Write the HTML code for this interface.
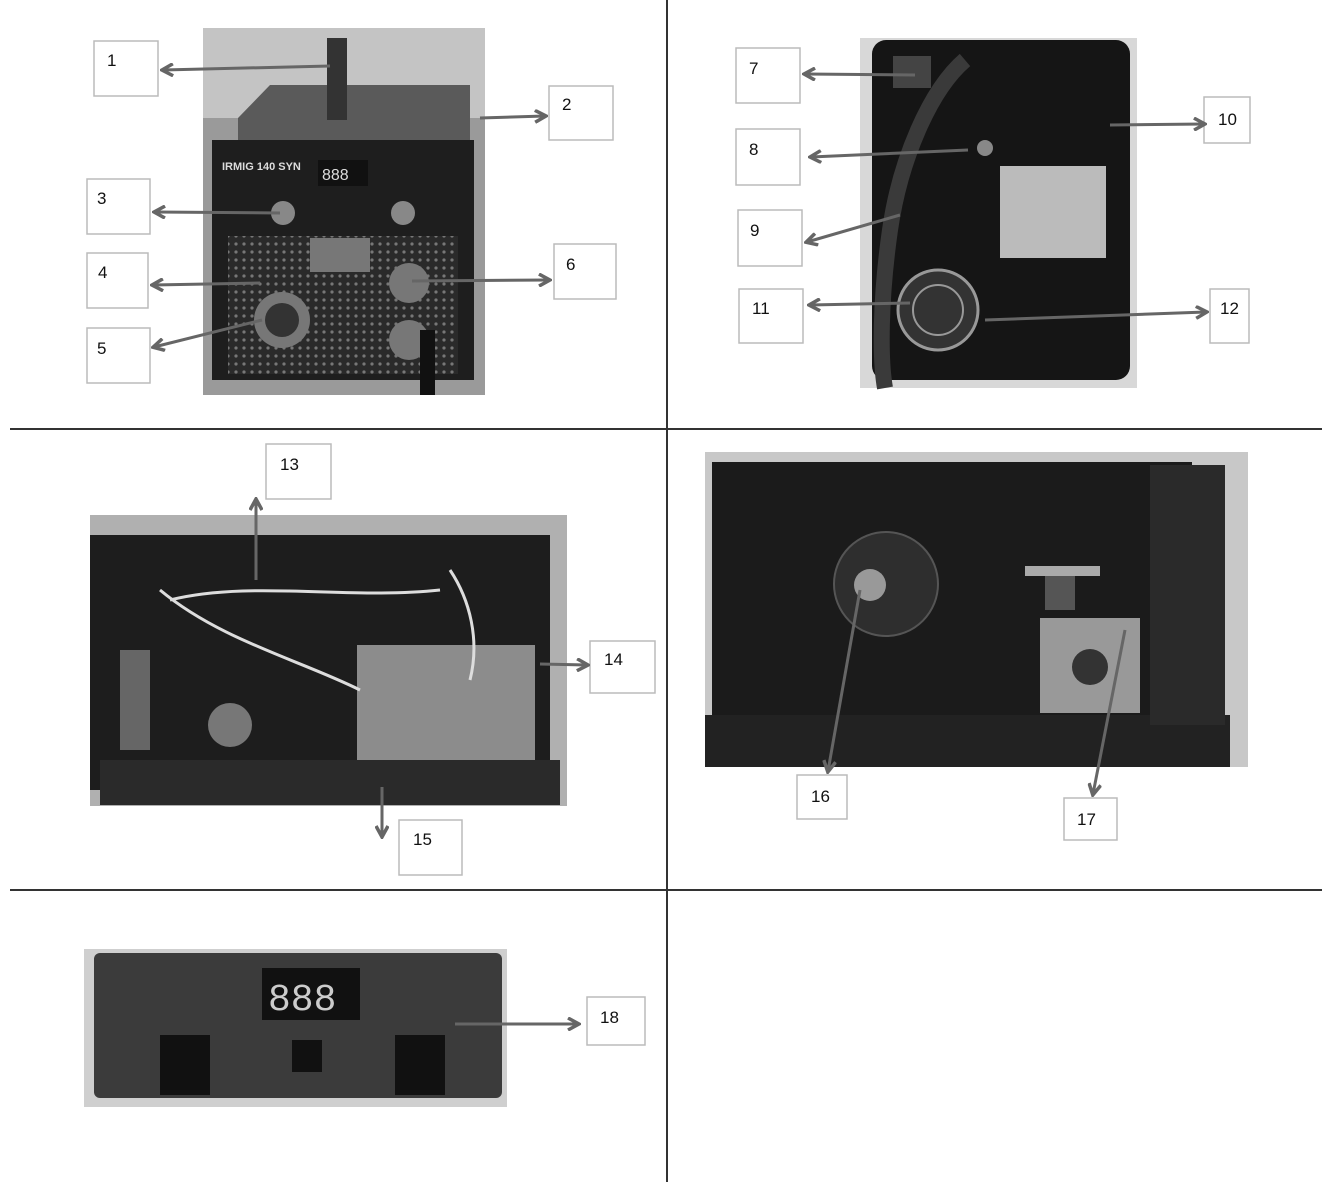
<!DOCTYPE html>
<html><head><style>
html,body{margin:0;padding:0;background:#fff}
svg{display:block}
text{font-family:"Liberation Sans",sans-serif;font-size:17px;fill:#111}
</style></head><body>
<svg width="1330" height="1182" viewBox="0 0 1330 1182" xmlns="http://www.w3.org/2000/svg">
<defs>
<marker id="a" markerWidth="14" markerHeight="14" refX="11" refY="7" orient="auto" markerUnits="userSpaceOnUse"><path d="M1,1 L12,7 L1,13" fill="none" stroke="#666" stroke-width="3.5"/></marker>
<pattern id="holes" width="8" height="8" patternUnits="userSpaceOnUse"><rect width="8" height="8" fill="#2a2a2a"/><circle cx="4" cy="4" r="1.6" fill="#777"/></pattern>
</defs>
<line x1="667" y1="0" x2="667" y2="1182" stroke="#333" stroke-width="2"/>
<line x1="10" y1="429" x2="1322" y2="429" stroke="#333" stroke-width="2"/>
<line x1="10" y1="890" x2="1322" y2="890" stroke="#333" stroke-width="2"/>

<rect x="203" y="28" width="282" height="367" fill="#9a9a9a"/>
<rect x="203" y="28" width="282" height="90" fill="#c4c4c4"/>
<polygon points="238,118 270,85 470,85 470,145 238,145" fill="#5a5a5a"/>
<rect x="212" y="140" width="262" height="240" fill="#1e1e1e"/>
<rect x="228" y="236" width="230" height="138" fill="url(#holes)"/>
<rect x="318" y="160" width="50" height="26" fill="#111"/>
<text x="322" y="180" style="fill:#ddd;font-size:16px">888</text>
<text x="222" y="170" style="fill:#ddd;font-size:11px;font-weight:bold">IRMIG 140 SYN</text>
<rect x="310" y="238" width="60" height="34" fill="#777"/>
<circle cx="283" cy="213" r="12" fill="#888"/><circle cx="403" cy="213" r="12" fill="#888"/>
<circle cx="282" cy="320" r="28" fill="#777"/><circle cx="282" cy="320" r="17" fill="#333"/>
<circle cx="409" cy="283" r="20" fill="#777"/><circle cx="409" cy="340" r="20" fill="#777"/>
<rect x="327" y="38" width="20" height="82" fill="#333"/>
<rect x="420" y="330" width="15" height="65" fill="#111"/>

<rect x="860" y="38" width="277" height="350" fill="#d8d8d8"/>
<rect x="872" y="40" width="258" height="340" rx="14" fill="#151515"/>
<rect x="893" y="56" width="38" height="32" fill="#444"/>
<rect x="1000" y="166" width="106" height="92" fill="#bbb"/>
<circle cx="938" cy="310" r="40" fill="#333" stroke="#999" stroke-width="3"/>
<circle cx="938" cy="310" r="25" fill="none" stroke="#999" stroke-width="2"/>
<circle cx="985" cy="148" r="8" fill="#888"/>
<path d="M965,60 C930,90 900,160 890,230 C880,300 880,360 885,388" stroke="#3a3a3a" stroke-width="16" fill="none"/>

<rect x="90" y="515" width="477" height="291" fill="#b0b0b0"/>
<rect x="90" y="535" width="460" height="255" fill="#1d1d1d"/>
<rect x="100" y="760" width="460" height="45" fill="#2a2a2a"/>
<rect x="357" y="645" width="178" height="115" fill="#8c8c8c"/>
<circle cx="230" cy="725" r="22" fill="#777"/>
<path d="M160,590 C220,640 300,660 360,690 M170,600 C250,580 350,600 440,590 M450,570 C470,600 480,640 470,680" stroke="#ddd" stroke-width="3" fill="none"/>
<rect x="120" y="650" width="30" height="100" fill="#666"/>

<rect x="705" y="452" width="543" height="315" fill="#c8c8c8"/>
<rect x="712" y="462" width="480" height="255" fill="#1b1b1b"/>
<rect x="705" y="715" width="525" height="52" fill="#222"/>
<rect x="1150" y="465" width="75" height="260" fill="#2a2a2a"/>
<circle cx="886" cy="584" r="52" fill="#2e2e2e" stroke="#555" stroke-width="2"/>
<circle cx="870" cy="585" r="16" fill="#999"/>
<rect x="1040" y="618" width="100" height="95" fill="#999"/>
<circle cx="1090" cy="667" r="18" fill="#333"/>
<rect x="1045" y="570" width="30" height="40" fill="#555"/>
<rect x="1025" y="566" width="75" height="10" fill="#aaa"/>

<rect x="84" y="949" width="423" height="158" fill="#cfcfcf"/>
<rect x="94" y="953" width="408" height="145" rx="6" fill="#3b3b3b"/>
<rect x="262" y="968" width="98" height="52" fill="#111"/>
<text x="268" y="1010" style="fill:#ccc;font-size:38px;font-family:'Liberation Mono',monospace">888</text>
<rect x="160" y="1035" width="50" height="60" fill="#111"/>
<rect x="395" y="1035" width="50" height="60" fill="#111"/>
<rect x="292" y="1040" width="30" height="32" fill="#111"/>

<g fill="#fff" stroke="#bbb" stroke-width="1.5">
<rect x="94" y="41" width="64" height="55"/>
<rect x="549" y="86" width="64" height="54"/>
<rect x="87" y="179" width="63" height="55"/>
<rect x="87" y="253" width="61" height="55"/>
<rect x="87" y="328" width="63" height="55"/>
<rect x="554" y="244" width="62" height="55"/>
<rect x="736" y="48" width="64" height="55"/>
<rect x="736" y="129" width="64" height="56"/>
<rect x="738" y="210" width="64" height="56"/>
<rect x="1204" y="97" width="46" height="46"/>
<rect x="739" y="289" width="64" height="54"/>
<rect x="1210" y="289" width="39" height="54"/>
<rect x="266" y="444" width="65" height="55"/>
<rect x="590" y="641" width="65" height="52"/>
<rect x="399" y="820" width="63" height="55"/>
<rect x="797" y="775" width="50" height="44"/>
<rect x="1064" y="798" width="53" height="42"/>
<rect x="587" y="997" width="58" height="48"/>
</g>
<text x="107" y="66">1</text><text x="562" y="110">2</text><text x="97" y="204">3</text>
<text x="98" y="278">4</text><text x="97" y="354">5</text><text x="566" y="270">6</text>
<text x="749" y="74">7</text><text x="749" y="155">8</text><text x="750" y="236">9</text>
<text x="1218" y="125">10</text><text x="752" y="314">11</text><text x="1220" y="314">12</text>
<text x="280" y="470">13</text><text x="604" y="665">14</text><text x="413" y="845">15</text>
<text x="811" y="802">16</text><text x="1077" y="825">17</text><text x="600" y="1023">18</text>

<g stroke="#666" stroke-width="3" fill="none" marker-end="url(#a)">
<line x1="330" y1="66" x2="163" y2="70"/>
<line x1="480" y1="118" x2="545" y2="116"/>
<line x1="280" y1="213" x2="155" y2="212"/>
<line x1="260" y1="283" x2="153" y2="285"/>
<line x1="262" y1="320" x2="154" y2="347"/>
<line x1="412" y1="281" x2="549" y2="280"/>
<line x1="915" y1="75" x2="805" y2="74"/>
<line x1="968" y1="150" x2="811" y2="157"/>
<line x1="900" y1="215" x2="807" y2="242"/>
<line x1="1110" y1="125" x2="1204" y2="124"/>
<line x1="910" y1="303" x2="810" y2="305"/>
<line x1="985" y1="320" x2="1206" y2="312"/>
<line x1="256" y1="580" x2="256" y2="500"/>
<line x1="540" y1="664" x2="587" y2="665"/>
<line x1="382" y1="787" x2="382" y2="836"/>
<line x1="860" y1="590" x2="828" y2="771"/>
<line x1="1125" y1="630" x2="1093" y2="794"/>
<line x1="455" y1="1024" x2="578" y2="1024"/>
</g>
</svg>
</body></html>
